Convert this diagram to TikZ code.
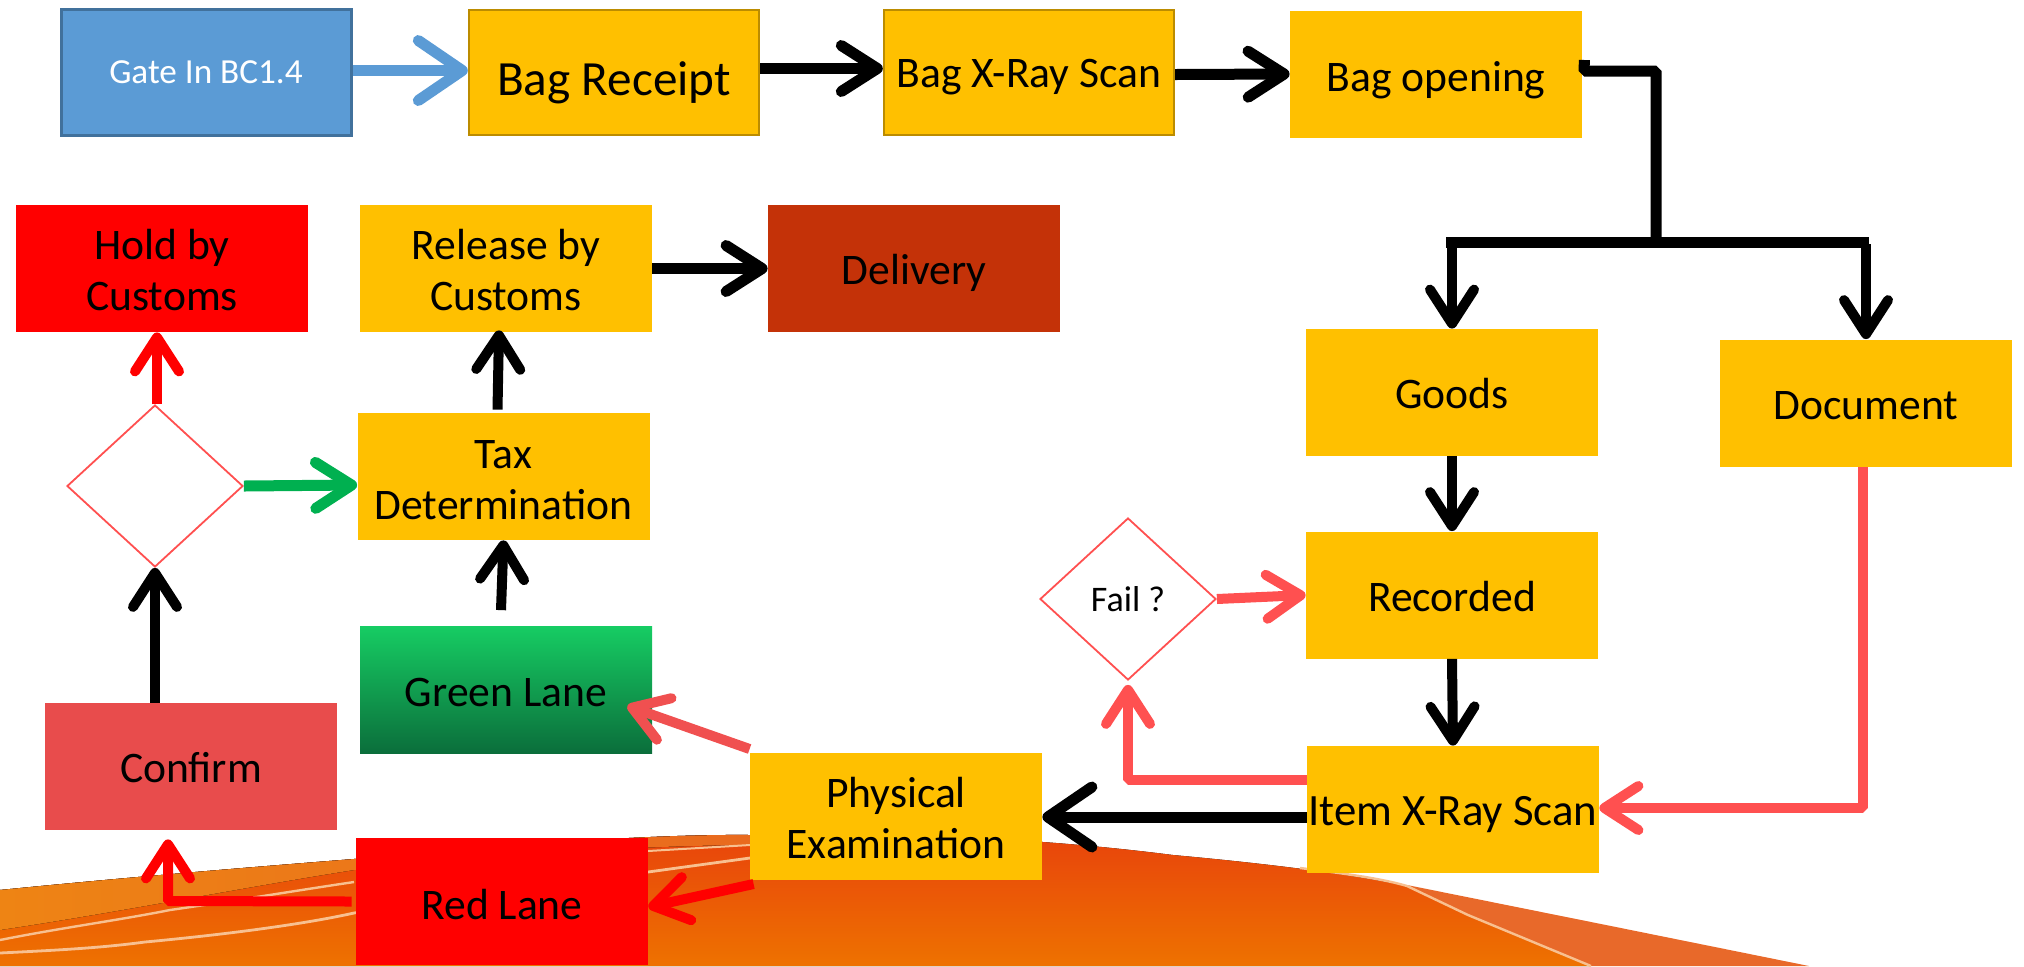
\documentclass[tikz,border=0pt]{standalone}
\usepackage{fontspec}
\setmainfont{Carlito}
\usetikzlibrary{arrows.meta,shapes.geometric}
\definecolor{gold}{HTML}{FFC000}
\definecolor{pink}{HTML}{FF5050}
\definecolor{rust}{HTML}{C43208}
\definecolor{rosered}{HTML}{E84C4C}
\definecolor{lanecoral}{HTML}{F05050}
\definecolor{domeTop}{HTML}{E8430C}
\definecolor{domeBot}{HTML}{EE7200}
\definecolor{bandLeft}{HTML}{EE8414}
\definecolor{bandMid}{HTML}{F09A28}
\definecolor{bandEnd}{HTML}{E96A1E}
\definecolor{bandRight}{HTML}{E8692A}
\definecolor{streak}{HTML}{F8C090}
\definecolor{gatefill}{HTML}{5B9BD5}
\definecolor{gateline}{HTML}{41719C}
\definecolor{bagline}{HTML}{BC8C00}
\definecolor{laneTop}{HTML}{16CC63}
\definecolor{laneBot}{HTML}{0B6E3B}
\definecolor{passgreen}{HTML}{00B050}
% text pushed down by half of #1 inside its box
\newcommand\liftone[2]{\vbox{\kern#1\halign{\hfil##\hfil\cr#2\cr}}}
\newcommand\lifttwo[3]{\vbox{\kern#1\halign{\hfil##\hfil\cr#2\cr#3\cr}}}
\tikzset{
  bag/.style={rectangle,fill=gold,inner sep=0pt,minimum width=146pt,minimum height=63.5pt,text=black,font=\fontsize{21.8}{25.5}\selectfont},
  dia/.style={diamond,draw=pink,line width=0.9pt,fill=white,aspect=1.086,minimum width=88pt,minimum height=81pt,inner sep=0pt,font=\fontsize{18}{20}\selectfont},
  hh/.style={line width=5.5pt,line join=bevel,-{Straight Barb[length=18pt,width=23pt,round]}},
  hbig/.style={line width=5.5pt,line join=bevel,-{Straight Barb[length=22pt,width=30pt,round]}},
  vv/.style={line width=5pt,line join=bevel,-{Straight Barb[length=17pt,width=22pt,round]}},
  plainline/.style={line width=5.5pt,line join=bevel}
}
\begin{document}
\begin{tikzpicture}[x=0.5pt,y=-0.5pt]
\useasboundingbox (0,0) rectangle (2024,966);
% background swoosh
\fill[top color=domeTop,bottom color=domeBot] (0,966) -- (0,890)
  .. controls (120,878) and (240,868) .. (354,859)
  .. controls (500,845) and (650,834) .. (750,835)
  .. controls (900,832) and (1040,838) .. (1173,855)
  .. controls (1250,862) and (1340,872) .. (1407,886)
  -- (1468,915) -- (1591,966) -- cycle;
\fill[left color=bandLeft,middle color=bandMid,right color=bandEnd] (0,890)
  .. controls (120,878) and (240,868) .. (354,859)
  .. controls (500,845) and (650,834) .. (750,835)
  -- (750,845) .. controls (600,846) and (450,860) .. (354,870)
  .. controls (240,888) and (120,912) .. (0,930) -- cycle;
\fill[bandRight] (1407,885) -- (1606,925) -- (1809,966) -- (1591,966) -- (1468,915) -- cycle;
\draw[streak,line width=1.2pt] (0,940) .. controls (60,928) and (120,920) .. (170,910) .. controls (240,900) and (300,890) .. (354,882);
\draw[streak,line width=1.4pt] (0,953) .. controls (60,950) and (100,948) .. (145,942) .. controls (220,935) and (300,925) .. (354,913) .. controls (470,895) and (560,885) .. (648,872) -- (750,858);
\draw[streak,line width=1pt] (648,851) -- (750,845);
\draw[streak,line width=1.2pt] (1300,868) .. controls (1340,873) and (1380,878) .. (1407,886) -- (1468,915) -- (1591,966);
% nodes
\node[bag,fill=gatefill,draw=gateline,line width=1.5pt,minimum width=145pt,minimum height=63pt,text=white,font=\fontsize{17.6}{20}\selectfont] (gate) at (206,72.5) {Gate In BC1.4};
\node[bag,draw=bagline,line width=1.2pt,minimum width=145pt,minimum height=62.5pt,font=\fontsize{24.6}{28}\selectfont] (receipt) at (614,72.5) {\liftone{10pt}{Bag Receipt}};
\node[bag,draw=bagline,line width=1.2pt,minimum width=145pt,minimum height=62.5pt] (xray) at (1029,72.5) {\liftone{5pt}{Bag X-Ray Scan}};
\node[bag] (opening) at (1436,74) {\liftone{6.5pt}{Bag opening}};
\node[bag] (goods) at (1452,392.5) {\liftone{1.3pt}{Goods}};
\node[bag] (document) at (1866,403) {\liftone{2.6pt}{Document}};
\node[bag] (recorded) at (1452,595) {\liftone{1.3pt}{Recorded}};
\node[bag,font=\fontsize{22.4}{25.5}\selectfont] (item) at (1453,809.5) {\liftone{5pt}{Item X-Ray Scan}};
\node[bag] (physical) at (896,816) {\lifttwo{2pt}{Physical}{Examination}};
\node[bag,top color=laneTop,bottom color=laneBot] (green) at (506,690) {\liftone{2.6pt}{Green Lane}};
\node[bag,fill=red] (redlane) at (502,901.5) {\liftone{2.6pt}{Red Lane}};
\node[bag,fill=rosered] (confirm) at (191,766.5) {\liftone{1.3pt}{Confirm}};
\node[bag,fill=red] (hold) at (162,268.5) {\lifttwo{2pt}{Hold by}{Customs}};
\node[bag] (release) at (506,268.5) {\lifttwo{2pt}{Release by}{Customs}};
\node[bag,fill=rust] (delivery) at (914,268.5) {\liftone{3.9pt}{Delivery}};
\node[bag] (tax) at (503.5,476.5) {\lifttwo{3.2pt}{Tax}{Determination}};
\node[dia] (gatecheck) at (155,486) {};
\node[dia] (fail) at (1128,599) {Fail ?};
% helper points
\coordinate (o1) at (1584,71);
\coordinate (o2) at (1656,71);
\coordinate (jn) at (1656,242);
\coordinate (jl) at (1446,242);
\coordinate (jr) at (1869,242);
\coordinate (jg) at (1452,240);
\coordinate (jd) at (1866,244);
\coordinate (db) at (1863,808);
\coordinate (fb) at (1128,780);
\coordinate (rb) at (168,901);
% connectors
\draw[hbig,gatefill] ([yshift=1pt]gate.east) -- ([yshift=1pt]receipt.west);
\draw[hh] ([yshift=2pt]receipt.east) -- ([yshift=2pt]xray.west);
\draw[hh] ([yshift=-1pt]xray.east) -- (opening.west);
\draw[plainline] ([xshift=1pt,yshift=7pt]opening.east) -- (o1) -- (o2) -- (jn);
\draw[plainline] (jl) -- (jr);
\draw[vv] (jg) -- (goods.north);
\draw[vv] (jd) -- (document.north);
\draw[vv] (goods.south) -- (recorded.north);
\draw[vv] (recorded.south) -- (item.north);
\draw[hbig] ([yshift=-3.75pt]item.west) -- ([yshift=-0.5pt]physical.east);
\draw[vv,pink] ([xshift=-1.5pt]document.south) -- (db) -- ([yshift=0.75pt]item.east);
\draw[vv,pink] ([yshift=14.75pt]item.west) -- (fb) -- ([yshift=-2pt]fail.south);
\draw[vv,pink] (fail.east) -- (recorded.west);
\draw[vv,lanecoral] ([yshift=33.5pt]physical.west) -- ([xshift=-12.5pt,yshift=-8pt]green.east);
\draw[vv,red] ([xshift=2pt,yshift=-34pt]physical.west) -- ([yshift=-2.75pt]redlane.east);
\draw[vv,red] ([xshift=-2pt]redlane.west) -- (rb) -- ([xshift=-11.5pt,yshift=-4.5pt]confirm.south);
\draw[vv] ([xshift=-18pt]confirm.north) -- (gatecheck.south);
\draw[vv,red] ([xshift=1pt]gatecheck.north) -- ([xshift=-2.5pt]hold.south);
\draw[hh,passgreen] (gatecheck.east) -- ([yshift=-4.25pt]tax.west);
\draw[vv] ([xshift=-2.5pt,yshift=8pt]green.north) -- (tax.south);
\draw[vv] ([xshift=-3pt,yshift=1.5pt]tax.north) -- ([xshift=-3.5pt,yshift=1pt]release.south);
\draw[hh] (release.east) -- (delivery.west);
\end{tikzpicture}
\end{document}
